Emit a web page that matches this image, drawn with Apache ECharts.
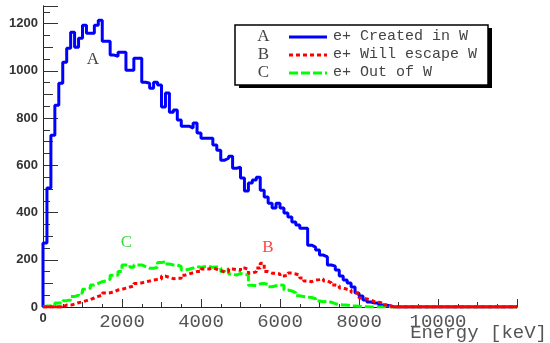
<!DOCTYPE html>
<html>
<head>
<meta charset="utf-8">
<script src="https://cdn.jsdelivr.net/npm/echarts@6/dist/echarts.min.js"></script>
<style>
  html, body { margin: 0; background: #fff; }
  #chart { width: 550px; height: 343px; }
</style>
</head>
<body>
<div id="chart"></div>
<script>
// histogram bins, 100 keV wide, starting at 0 keV
const BIN_KEV = 100;
const E_MAX = 12000;
const Y_MAX = 1275;

// A: e+ created in W
const createdInW = [
  271, 504, 728, 855, 948, 1037, 1096, 1164, 1100, 1138,
  1193, 1160, 1160, 1193, 1215, 1126, 1126, 1067, 1062, 1079,
  1079, 1003, 1003, 1054, 1054, 952, 948, 927, 952, 940,
  847, 906, 825, 834, 792, 766, 766, 758, 779, 737,
  715, 715, 715, 686, 664, 622, 630, 639, 588, 592,
  546, 491, 525, 538, 550, 495, 466, 440, 419, 440,
  419, 398, 381, 360, 347, 334, 334, 262, 254, 241,
  220, 212, 178, 173, 157, 131, 114, 102, 85, 59,
  47, 30, 21, 17, 17, 8, 8, 4
];

// B: e+ will escape W
const willEscapeW = [
  0, 0, 0, 0, 0, 8, 8, 12, 18, 22,
  27, 32, 38, 45, 50, 59, 60, 65, 72, 75,
  80, 85, 89, 100, 102, 107, 110, 114, 117, 119,
  131, 125, 120, 122, 122, 135, 140, 145, 150, 150,
  161, 161, 165, 160, 155, 148, 150, 161, 158, 155,
  165, 160, 143, 150, 165, 185, 150, 143, 143, 140,
  131, 135, 144, 140, 135, 123, 110, 107, 114, 116,
  119, 110, 102, 93, 90, 80, 75, 72, 62, 55,
  38, 34, 30, 22, 20, 17, 8, 5
];

// C: e+ out of W
const outOfW = [
  4, 4, 8, 17, 17, 27, 30, 44, 50, 59,
  75, 80, 93, 100, 107, 110, 118, 135, 135, 150,
  178, 178, 168, 178, 178, 171, 164, 164, 168, 188,
  192, 182, 178, 178, 172, 157, 160, 165, 171, 168,
  171, 172, 168, 170, 165, 150, 160, 140, 135, 142,
  138, 135, 92, 90, 98, 100, 95, 86, 90, 93,
  92, 72, 68, 60, 48, 44, 42, 40, 35, 25,
  22, 24, 20, 14, 10, 8, 8, 5, 4, 3,
  2, 1
];

const xLabels = [0, 2000, 4000, 6000, 8000, 10000];
const yLabels = [0, 200, 400, 600, 800, 1000, 1200];

const legendRows = [
  {tag: 'A', text: 'e+ Created in W', color: '#0000ff', dash: null},
  {tag: 'B', text: 'e+ Will escape W', color: '#ff0000', dash: [4, 3]},
  {tag: 'C', text: 'e+ Out of W', color: '#00ff00', dash: [9, 3]},
];

const nBins = E_MAX / BIN_KEV;

// step data: one point per low bin edge, plus closing edge
function toSteps(vals) {
  const pts = [[0, 0]];
  for (let k = 0; k < nBins; k++) pts.push([k * BIN_KEV, vals[k] || 0]);
  pts.push([E_MAX, vals[nBins - 1] || 0]);
  return pts;
}

// the empty stretches of B are drawn solid along the axis
function zeroRuns(vals) {
  let first = vals.findIndex(v => v > 0);
  let last = vals.length - 1;
  while (last > 0 && !(vals[last] > 0)) last--;
  return [
    [0, 0], [first * BIN_KEV, 0],
    [(first + last) / 2 * BIN_KEV, '-'],
    [(last + 1) * BIN_KEV, 0], [E_MAX, 0],
  ];
}

const tickColor = '#333';
const frameColor = '#222';

function xAxisOf(interval, len, extra) {
  return Object.assign({
    type: 'value', min: 0, max: E_MAX, interval: interval, position: 'bottom',
    axisLine: {show: false},
    axisTick: {inside: true, length: len, lineStyle: {color: tickColor}},
    axisLabel: {show: false},
    splitLine: {show: false},
  }, extra || {});
}
function yAxisOf(interval, len, extra) {
  return Object.assign({
    type: 'value', min: 0, max: Y_MAX, interval: interval, position: 'left',
    axisLine: {show: false},
    axisTick: {inside: true, length: len, lineStyle: {color: tickColor}},
    axisLabel: {show: false},
    splitLine: {show: false},
  }, extra || {});
}

const chart = echarts.init(document.getElementById('chart'), null, {renderer: 'canvas'});

const graphic = [
  {type: 'rect', shape: {x: 239, y: 28, width: 253, height: 60}, style: {fill: '#000'}},
  {type: 'rect', shape: {x: 235, y: 25, width: 253, height: 60},
    style: {fill: '#fff', stroke: '#000', lineWidth: 1.5}},
];
const rowY = [36, 54, 72];
legendRows.forEach((r, i) => {
  graphic.push({type: 'text', style: {
    text: r.tag, x: 263.5, y: rowY[i] + 1, textAlign: 'center', textVerticalAlign: 'middle',
    font: '17px "Liberation Serif"', fill: '#444'}});
  graphic.push({type: 'line', shape: {x1: 289, y1: rowY[i] + 1, x2: 327, y2: rowY[i] + 1},
    style: {stroke: r.color, lineWidth: 3, lineDash: r.dash}});
  graphic.push({type: 'text', style: {
    text: r.text, x: 333, y: rowY[i], textAlign: 'left', textVerticalAlign: 'middle',
    font: '15px "Liberation Mono"', fill: '#444'}});
});
// curve tags
graphic.push({type: 'text', style: {text: 'A', x: 93, y: 60, textAlign: 'center',
  textVerticalAlign: 'middle', font: '17px "Liberation Serif"', fill: '#444'}});
graphic.push({type: 'text', style: {text: 'C', x: 126.5, y: 243, textAlign: 'center',
  textVerticalAlign: 'middle', font: '17px "Liberation Serif"', fill: '#33dd33'}});
graphic.push({type: 'text', style: {text: 'B', x: 268, y: 247.5, textAlign: 'center',
  textVerticalAlign: 'middle', font: '17px "Liberation Serif"', fill: '#ff4444'}});
// x axis title
graphic.push({type: 'text', style: {text: 'Energy [keV]', x: 547, y: 333, textAlign: 'right',
  textVerticalAlign: 'middle', font: '19px "Liberation Mono"', fill: '#555'}});

const option = {
  animation: false,
  backgroundColor: '#fff',
  grid: {left: 43, right: 33, top: 6, bottom: 36, outerBoundsMode: 'none', containLabel: false},
  xAxis: [
    xAxisOf(2000, 8, {
      axisLine: {show: true, lineStyle: {color: tickColor}},
      axisLabel: {
        show: true, margin: 5,
        formatter: v => !xLabels.includes(v) ? '' : v === 0 ? '{z|0}' : '{m|' + v + '}',
        rich: {
          z: {fontFamily: '"Liberation Sans"', fontWeight: 'bold', fontSize: 13,
            color: '#333', padding: [0, 0, 6, 0]},
          m: {fontFamily: '"Liberation Mono"', fontSize: 19, color: '#555'},
        },
      },
    }),
    xAxisOf(1000, 5),
    xAxisOf(500, 3),
    // top frame line
    xAxisOf(2000, 0, {position: 'top', axisTick: {show: false},
      axisLine: {show: true, lineStyle: {color: frameColor}}}),
  ],
  yAxis: [
    yAxisOf(200, 15, {
      axisLine: {show: true, lineStyle: {color: tickColor}},
      axisLabel: {show: true, margin: 5, fontFamily: '"Liberation Sans"',
        fontWeight: 'bold', fontSize: 13, color: '#333',
        formatter: v => (yLabels.includes(v) ? String(v) : '')},
    }),
    yAxisOf(100, 10),
    yAxisOf(50, 7),
    // right frame line
    yAxisOf(200, 0, {position: 'right', axisTick: {show: false},
      axisLine: {show: true, lineStyle: {color: frameColor}}}),
  ],
  series: [
    {name: 'Created in W', type: 'line', step: 'end', showSymbol: false,
      data: toSteps(createdInW), lineStyle: {color: '#0000ff', width: 3}, z: 3},
    {name: 'Out of W', type: 'line', step: 'end', showSymbol: false,
      data: toSteps(outOfW), lineStyle: {color: '#00ff00', width: 3, type: [9, 3]}, z: 4},
    {name: 'Will escape W', type: 'line', step: 'end', showSymbol: false,
      data: toSteps(willEscapeW), lineStyle: {color: '#ff0000', width: 3, type: [4, 3]}, z: 5},
    {name: 'Will escape W (empty)', type: 'line', showSymbol: false, connectNulls: false,
      data: zeroRuns(willEscapeW), lineStyle: {color: '#ff0000', width: 3}, z: 6},
  ],
  graphic: graphic,
};

chart.setOption(option);
</script>
</body>
</html>
